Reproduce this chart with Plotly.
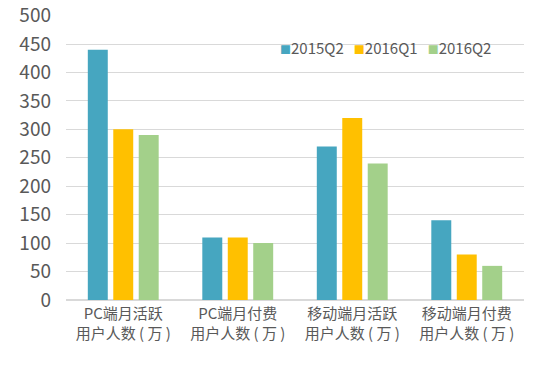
import plotly.graph_objects as go

categories = ["PC端月活跃<br>用户人数 ( 万 )", "PC端月付费<br>用户人数 ( 万 )",
              "移动端月活跃<br>用户人数 ( 万 )", "移动端月付费<br>用户人数 ( 万 )"]
series_names = ["2015Q2", "2016Q1", "2016Q2"]
v_2015q2 = [440, 110, 270, 140]
v_2016q1 = [300, 110, 320, 80]
v_2016q2 = [290, 100, 240, 60]
colors = ["#46A6C0", "#FFC000", "#A3D08A"]
y_ticks = [0, 50, 100, 150, 200, 250, 300, 350, 400, 450, 500]

font = "Noto Sans CJK SC, Noto Sans, sans-serif"
fig = go.Figure()
for name, vals, c in zip(series_names, [v_2015q2, v_2016q1, v_2016q2], colors):
    fig.add_trace(go.Bar(x=categories, y=vals, name=name, showlegend=False,
                         marker=dict(color=c, line=dict(width=0))))

# legend drawn as a text line built from the series names and colours
legend_text = "   ".join(
    f"<span style='color:{c};font-size:11px'>■</span>{n}" for n, c in zip(series_names, colors)
)
fig.add_annotation(text=legend_text, xref="paper", yref="paper", x=0.463, y=0.885,
                   xanchor="left", yanchor="middle", showarrow=False,
                   font=dict(size=15, color="#595959", family=font))

# page body has an 8px default margin; the figure is sized/offset to compensate
fig.update_layout(
    width=542, height=362,
    margin=dict(l=58, r=26, t=7, b=70),
    paper_bgcolor="white", plot_bgcolor="white",
    barmode="group", bargap=0.333, bargroupgap=0.216,
    font=dict(family=font, color="#595959"),
    xaxis=dict(showgrid=False, showline=False, ticks="", automargin=False,
               tickfont=dict(size=15, color="#595959"), ticklabelstandoff=3),
    yaxis=dict(range=[0, 501], tickvals=y_ticks, showgrid=True, gridcolor="#D9D9D9", gridwidth=1,
               zeroline=True, zerolinecolor="#D9D9D9", showline=False, ticks="", automargin=False,
               ticklabeloverflow="allow",
               tickfont=dict(size=19, color="#595959"), ticklabelstandoff=14),
)
fig.write_html("out.html")
